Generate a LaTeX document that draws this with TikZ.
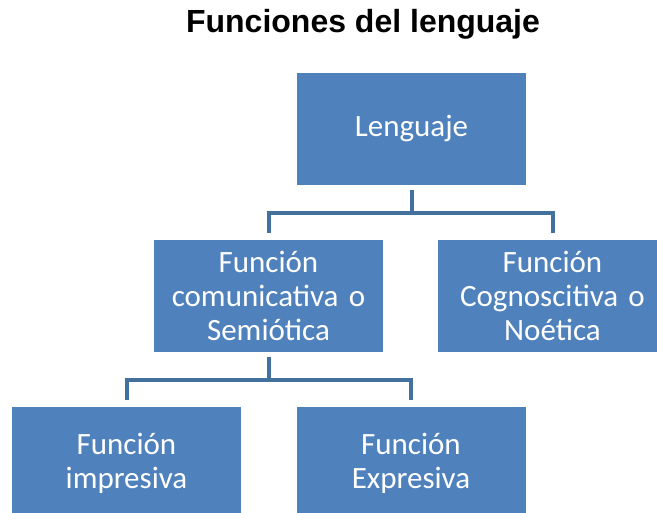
\documentclass[tikz,border=0pt]{standalone}
\usepackage{fontspec}
\setmainfont{Carlito}
\newfontfamily\titlefont{Liberation Sans}
\usepackage{tikz}
\usetikzlibrary{positioning}

\definecolor{boxblue}{HTML}{4F81BD}
\definecolor{lineblue}{HTML}{41719C}

\tikzset{
	caja/.style={fill=boxblue, text=white, minimum width=229pt, minimum height=112pt,
		inner sep=0pt, align=center, text width=225pt, font=\fontsize{31}{34}\selectfont},
	rama/.style={draw=lineblue, line width=4pt, shorten <=5pt, shorten >=7pt}
}

\begin{document}
\begin{tikzpicture}[x=1pt,y=-1pt]
	\clip (0,0) rectangle (657,513);
	% Title
	\node [anchor=base, font=\titlefont\bfseries\fontsize{32}{36}\selectfont] (titulo) at (363,33) {Funciones del lenguaje};
	% Boxes
	\node [caja] (lenguaje) at (411.5,129) {Lenguaje};
	\node [caja] (comunicativa) at (268.5,296) {Función\\comunicativa o\\Semiótica};
	\node [caja] (cognoscitiva) at (552.5,296) {Función\\Cognoscitiva o\\Noética};
	\node [caja] (impresiva) at (126.5,463) {Función\\impresiva};
	\node [caja] (expresiva) at (411,463) {Función\\Expresiva};
	% Branches
	\draw [rama] (lenguaje.south) -- ++(0,27.5) -| (comunicativa.north);
	\draw [rama] (lenguaje.south) -- ++(0,27.5) -| (cognoscitiva.north);
	\draw [rama] (comunicativa.south) -- ++(0,27.5) -| (impresiva.north);
	\draw [rama] (comunicativa.south) -- ++(0,27.5) -| (expresiva.north);
\end{tikzpicture}
\end{document}
